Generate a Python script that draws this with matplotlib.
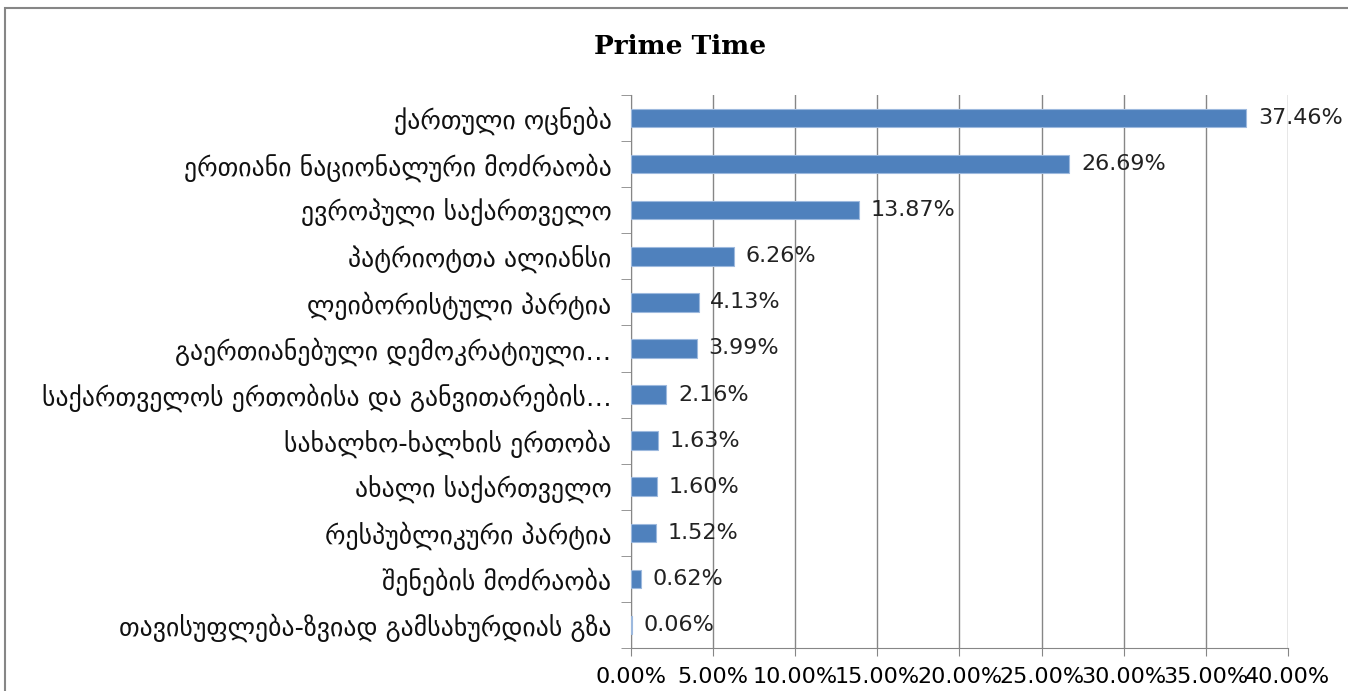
import matplotlib.pyplot as plt
from matplotlib.patches import Rectangle
from matplotlib.ticker import FixedLocator, NullFormatter

# data (top to bottom)
parties = [
    "ქართული ოცნება",
    "ერთიანი ნაციონალური მოძრაობა",
    "ევროპული საქართველო",
    "პატრიოტთა ალიანსი",
    "ლეიბორისტული პარტია",
    "გაერთიანებული დემოკრატიული…",
    "საქართველოს ერთობისა და განვითარების…",
    "სახალხო-ხალხის ერთობა",
    "ახალი საქართველო",
    "რესპუბლიკური პარტია",
    "შენების მოძრაობა",
    "თავისუფლება-ზვიად გამსახურდიას გზა",
]
shares = [37.46, 26.69, 13.87, 6.26, 4.13, 3.99, 2.16, 1.63, 1.60, 1.52, 0.62, 0.06]
xticks = [0, 5, 10, 15, 20, 25, 30, 35, 40]

plt.rcParams['font.family'] = ['DejaVu Sans']
fig = plt.figure(figsize=(13.48, 6.91), dpi=100)
ax = fig.add_axes([631 / 1348, 1 - 648 / 691, (1288 - 631) / 1348, (648 - 95) / 691])

# outer chart frame
fig.patches.append(Rectangle((5 / 1348, -0.1), 1.2, 1 - 8 / 691 + 0.1, transform=fig.transFigure,
                             fill=False, edgecolor='#868686', linewidth=1.5))

n = len(parties)
ypos = list(range(n))
ax.barh(ypos, shares, height=0.4, color='#4F81BD', edgecolor='#9DB9DE', linewidth=0.8, zorder=3)
ax.set_ylim(n - 0.5, -0.5)
ax.set_xlim(0, 40)

ax.set_yticks(ypos)
ax.set_yticklabels(parties, fontsize=18.5, color='#111111')
ax.yaxis.set_minor_locator(FixedLocator([i - 0.5 for i in range(n + 1)]))
ax.yaxis.set_minor_formatter(NullFormatter())
ax.tick_params(axis='y', which='major', length=0, pad=14)
ax.tick_params(axis='y', which='minor', length=7, color='#868686')

ax.set_xticks(xticks)
ax.set_xticklabels([f"{v:.2f}%" for v in xticks], fontsize=16)
ax.tick_params(axis='x', length=6, color='#868686', pad=8)

ax.grid(axis='x', color='#868686', linewidth=1.0, zorder=0)
for s in ['top', 'right']:
    ax.spines[s].set_visible(False)
for s in ['left', 'bottom']:
    ax.spines[s].set_color('#868686')

for y, v in zip(ypos, shares):
    ax.text(v + 0.7, y, f"{v:.2f}%", va='center', ha='left', fontsize=16, color='#222222', zorder=4)

fig.text(680 / 1348, 1 - 47 / 691, "Prime Time", ha='center', va='center',
         fontsize=19, fontweight='bold', family='DejaVu Serif')

fig.savefig("out.png", dpi=100)
